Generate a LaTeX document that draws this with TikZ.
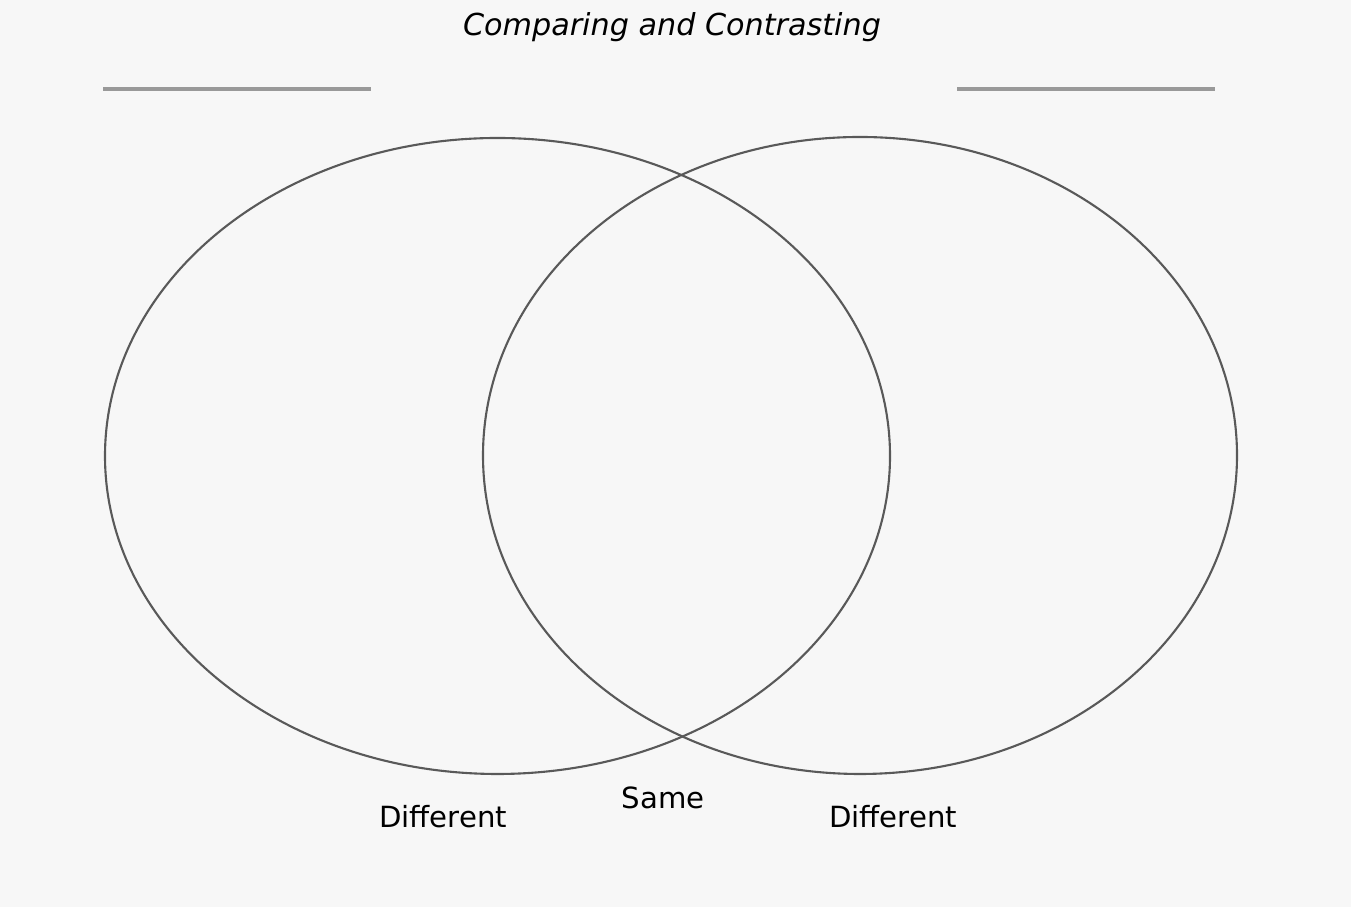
\documentclass[tikz,border=0pt]{standalone}
\usepackage{fontspec}
\setmainfont{DejaVu Sans}
\usetikzlibrary{positioning}

\begin{document}
\begin{tikzpicture}[every node/.style={font=\small,inner sep=0pt},
  ring/.style={draw=black!65,line width=.6pt},
  blank/.style={draw=black!40,line width=1.1pt},
  label/.style={font=\fontsize{8.3}{10}\selectfont}]
\useasboundingbox[fill=black!3] (0,0) rectangle (13.51,9.07);
% title and blanks for the two names
\node (title) at (6.72,8.80) {\fontsize{8.6}{10}\selectfont\itshape Comparing and Contrasting};
\coordinate (l0) at (1.03,8.18);
\coordinate (l1) at (3.71,8.18);
\coordinate (r0) at (9.57,8.18);
\coordinate (r1) at (12.15,8.18);
\draw[blank] (l0)--(l1);
\draw[blank] (r0)--(r1);
% the two sets
\coordinate (cA) at (4.975,4.51);
\coordinate (cB) at (8.60,4.515);
\draw[ring] (cA) ellipse (3.925 and 3.18);
\draw[ring] (cB) ellipse (3.77 and 3.185);
\node[label] (diffA) at (4.43,0.90) {Different};
\node[label] (same) at (6.63,1.09) {Same};
\node[label] (diffB) at (8.93,0.90) {Different};
\end{tikzpicture}
\end{document}
